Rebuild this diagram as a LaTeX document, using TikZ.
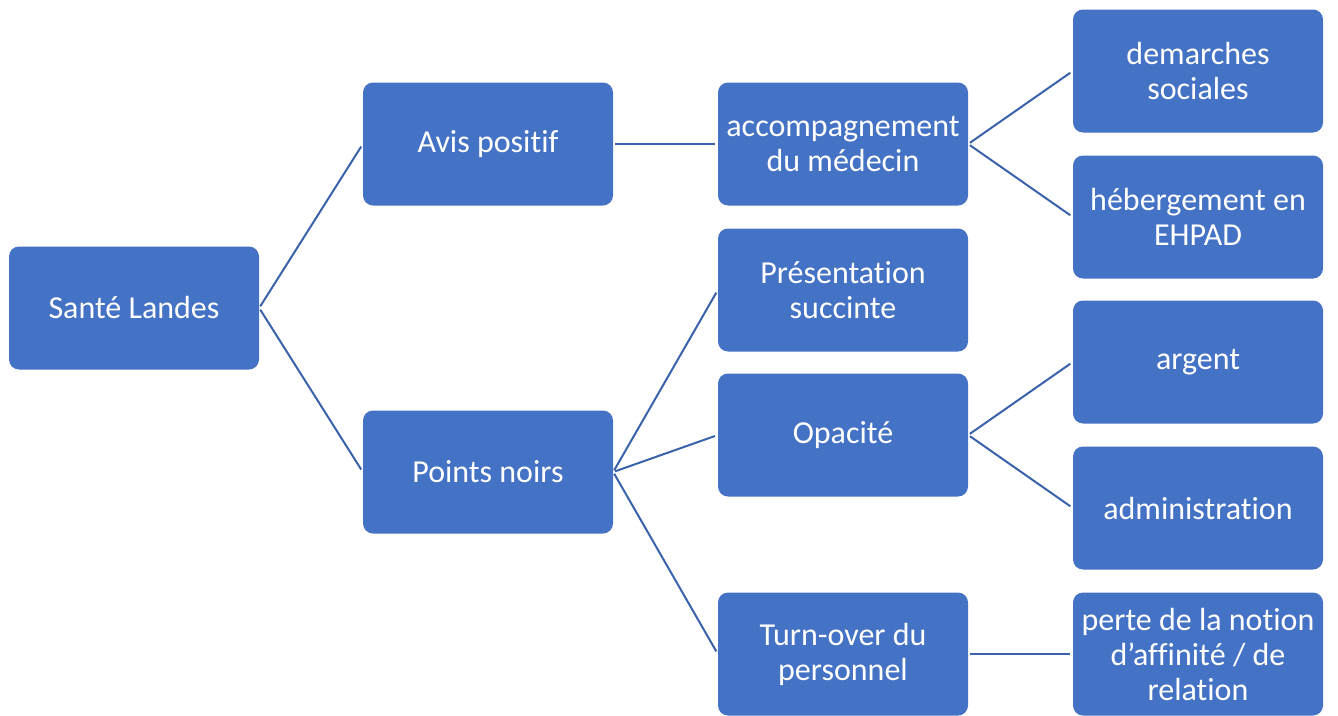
\documentclass[tikz,border=0pt]{standalone}
\usepackage{fontspec}
\defaultfontfeatures{}
\setmainfont{Carlito}[Ligatures=ResetAll,RawFeature={-liga;-clig;-calt;-dlig}]
\definecolor{boxblue}{HTML}{4472C4}
\definecolor{lineblue}{HTML}{3A62AB}
\newcommand{\nl}{\kern0pt}
\begin{document}
\begin{tikzpicture}[x=1pt,y=-1pt,
  box/.style={rectangle, rounded corners=10pt, fill=boxblue, draw=none,
    minimum width=250pt, minimum height=123pt, inner sep=0pt,
    text=white, align=center, font=\fontsize{32}{35}\selectfont},
  conn/.style={draw=lineblue, line width=2pt, shorten <=2pt, shorten >=3pt}]
\useasboundingbox (0,0) rectangle (1338,715);
\node[box] (sante) at (134,308) {Santé Landes};
\node[box] (avis) at (488,144) {Avis posit\nl if};
\node[box] (points) at (488,472) {Points noirs};
\node[box] (accomp) at (843,144) {accompagnement\\du médecin};
\node[box] (pres) at (843,290) {Présentat\nl ion\\succinte};
\node[box] (opac) at (843,435) {Opacité};
\node[box] (turn) at (843,654) {Turn-over du\\personnel};
\node[box] (dem) at (1198,71) {demarches\\sociales};
\node[box] (heb) at (1198,217) {hébergement en\\EHPAD};
\node[box] (arg) at (1198,362) {argent};
\node[box] (adm) at (1198,508) {administrat\nl ion};
\node[box] (perte) at (1198,654) {perte de la not\nl ion\\d\symbol{39}af\nl f\nl init\nl é / de\\relat\nl ion};
\draw[conn] (sante.east) -- (avis.west);
\draw[conn] (sante.east) -- (points.west);
\draw[conn] (avis.east) -- (accomp.west);
\draw[conn] (accomp.east) -- (dem.west);
\draw[conn] (accomp.east) -- (heb.west);
\draw[conn] (points.east) -- (pres.west);
\draw[conn] (points.east) -- (opac.west);
\draw[conn] (points.east) -- (turn.west);
\draw[conn] (opac.east) -- (arg.west);
\draw[conn] (opac.east) -- (adm.west);
\draw[conn] (turn.east) -- (perte.west);
\end{tikzpicture}
\end{document}
